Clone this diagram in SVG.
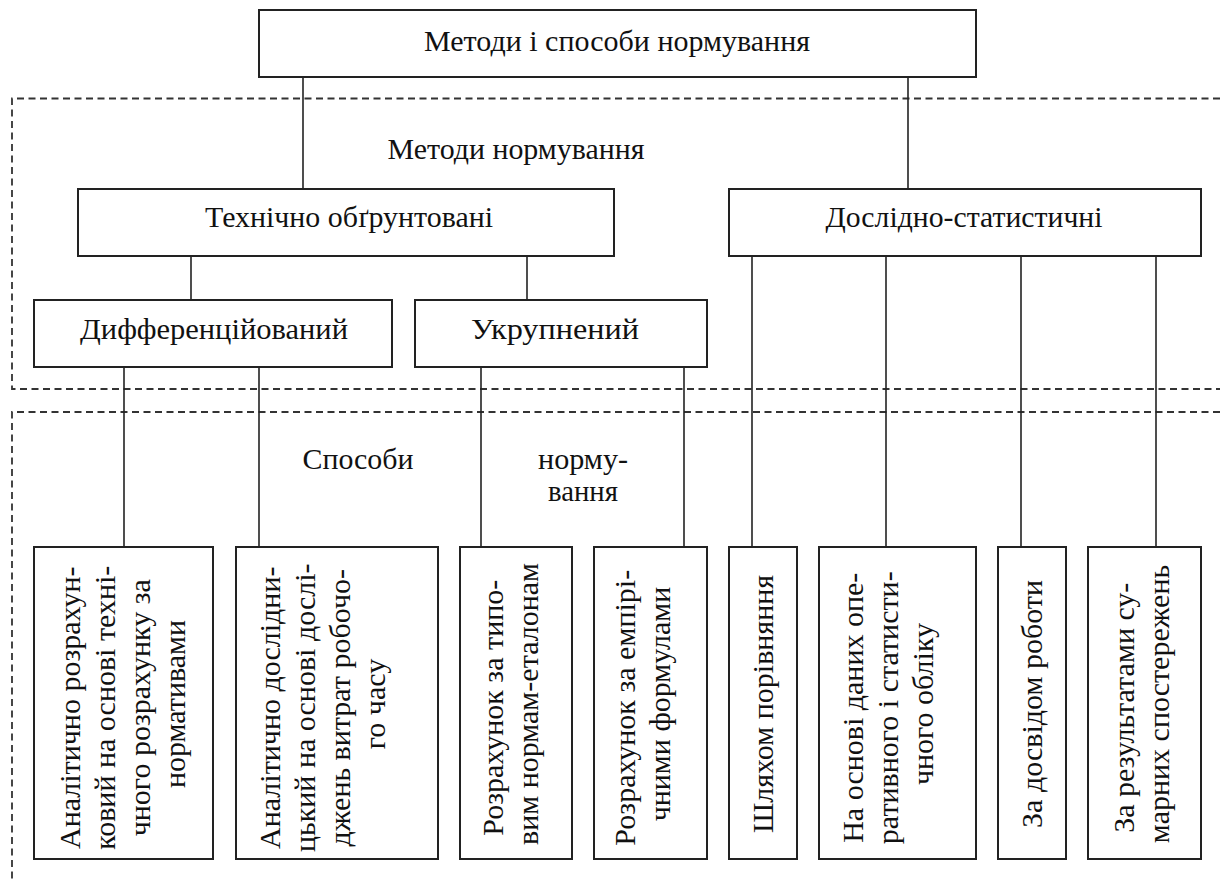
<svg xmlns="http://www.w3.org/2000/svg" width="1220" height="880" viewBox="0 0 1220 880">
  <style>
    .box { fill: #ffffff; stroke: #222222; stroke-width: 2; }
    .link { stroke: #222222; stroke-width: 1.6; fill: none; }
    .zone { stroke: #333333; stroke-width: 1.8; fill: none; stroke-dasharray: 7 4.5; }
    text { font-family: "Liberation Serif", "Times New Roman", serif; fill: #111111; }
    .h { font-size: 29px; text-anchor: middle; }
    .v { font-size: 30px; text-anchor: middle; }
  </style>

  <rect width="1220" height="880" fill="#ffffff"/>

  <!-- dashed zones: methods (upper) and ways (lower) -->
  <g id="zones">
    <polyline class="zone" points="1220,98.5 12,98.5 12,389 1220,389"/>
    <polyline class="zone" points="1220,412 12,412 12,880"/>
    <text class="h" x="516" y="159" textLength="257" lengthAdjust="spacingAndGlyphs">Методи нормування</text>
    <text class="h" x="358" y="469" textLength="111" lengthAdjust="spacingAndGlyphs">Способи</text>
    <text class="h" x="583" y="469" textLength="90" lengthAdjust="spacingAndGlyphs">норму-</text>
    <text class="h" x="583" y="501" textLength="70" lengthAdjust="spacingAndGlyphs">вання</text>
  </g>

  <!-- connectors -->
  <g id="connectors">
    <line class="link" x1="303" y1="77" x2="303" y2="189"/>
    <line class="link" x1="908" y1="77" x2="908" y2="189"/>
    <line class="link" x1="191" y1="256" x2="191" y2="300"/>
    <line class="link" x1="527" y1="256" x2="527" y2="300"/>
    <line class="link" x1="124" y1="367" x2="124" y2="547"/>
    <line class="link" x1="259" y1="367" x2="259" y2="547"/>
    <line class="link" x1="481" y1="367" x2="481" y2="547"/>
    <line class="link" x1="684" y1="367" x2="684" y2="547"/>
    <line class="link" x1="752" y1="256" x2="752" y2="547"/>
    <line class="link" x1="886" y1="256" x2="886" y2="547"/>
    <line class="link" x1="1021" y1="256" x2="1021" y2="547"/>
    <line class="link" x1="1156" y1="256" x2="1156" y2="547"/>
  </g>

  <g id="root">
    <rect class="box" x="259" y="10" width="717" height="67"/>
    <text class="h" x="617" y="51" textLength="386" lengthAdjust="spacingAndGlyphs">Методи і способи нормування</text>
  </g>

  <g id="technical">
    <rect class="box" x="78" y="189" width="536" height="67"/>
    <text class="h" x="349" y="227" textLength="288" lengthAdjust="spacingAndGlyphs">Технічно обґрунтовані</text>
  </g>

  <g id="statistical">
    <rect class="box" x="729" y="189" width="472" height="67"/>
    <text class="h" x="964" y="227" textLength="277" lengthAdjust="spacingAndGlyphs">Дослідно-статистичні</text>
  </g>

  <g id="differentiated">
    <rect class="box" x="34" y="300" width="358" height="67"/>
    <text class="h" x="214" y="339" textLength="268" lengthAdjust="spacingAndGlyphs">Дифференційований</text>
  </g>

  <g id="enlarged">
    <rect class="box" x="415" y="300" width="292" height="67"/>
    <text class="h" x="555" y="339" textLength="168" lengthAdjust="spacingAndGlyphs">Укрупнений</text>
  </g>

  <!-- ways of rating, text set bottom-to-top -->
  <g id="way-analytic-calc">
    <rect class="box" x="34" y="547" width="179" height="312"/>
    <text class="v" transform="translate(80,704) rotate(-90)">
      <tspan x="0" y="0">Аналітично розрахун-</tspan>
      <tspan x="0" dy="35">ковий на основі техні-</tspan>
      <tspan x="0" dy="35">чного розрахунку за</tspan>
      <tspan x="0" dy="35">нормативами</tspan>
    </text>
  </g>

  <g id="way-analytic-research">
    <rect class="box" x="236" y="547" width="202" height="312"/>
    <text class="v" transform="translate(280,704) rotate(-90)">
      <tspan x="0" y="0">Аналітично дослідни-</tspan>
      <tspan x="0" dy="35">цький на основі дослі-</tspan>
      <tspan x="0" dy="35">джень витрат робочо-</tspan>
      <tspan x="0" dy="35">го часу</tspan>
    </text>
  </g>

  <g id="way-typical">
    <rect class="box" x="460" y="547" width="112" height="312"/>
    <text class="v" transform="translate(503,704) rotate(-90)">
      <tspan x="0" y="0">Розрахунок за типо-</tspan>
      <tspan x="0" dy="35">вим нормам-еталонам</tspan>
    </text>
  </g>

  <g id="way-empirical">
    <rect class="box" x="594" y="547" width="113" height="312"/>
    <text class="v" transform="translate(635,704) rotate(-90)">
      <tspan x="0" y="0">Розрахунок за емпірі-</tspan>
      <tspan x="0" dy="35">чними формулами</tspan>
    </text>
  </g>

  <g id="way-comparison">
    <rect class="box" x="729" y="547" width="68" height="312"/>
    <text class="v" transform="translate(773,704) rotate(-90)">
      <tspan x="0" y="0">Шляхом порівняння</tspan>
    </text>
  </g>

  <g id="way-accounting">
    <rect class="box" x="819" y="547" width="157" height="312"/>
    <text class="v" transform="translate(863,704) rotate(-90)">
      <tspan x="0" y="0">На основі даних опе-</tspan>
      <tspan x="0" dy="35">ративного і статисти-</tspan>
      <tspan x="0" dy="35">чного обліку</tspan>
    </text>
  </g>

  <g id="way-experience">
    <rect class="box" x="998" y="547" width="68" height="312"/>
    <text class="v" transform="translate(1042,704) rotate(-90)">
      <tspan x="0" y="0">За досвідом роботи</tspan>
    </text>
  </g>

  <g id="way-observations">
    <rect class="box" x="1088" y="547" width="113" height="312"/>
    <text class="v" transform="translate(1134,704) rotate(-90)">
      <tspan x="0" y="0">За результатами су-</tspan>
      <tspan x="0" dy="35">марних спостережень</tspan>
    </text>
  </g>
</svg>
